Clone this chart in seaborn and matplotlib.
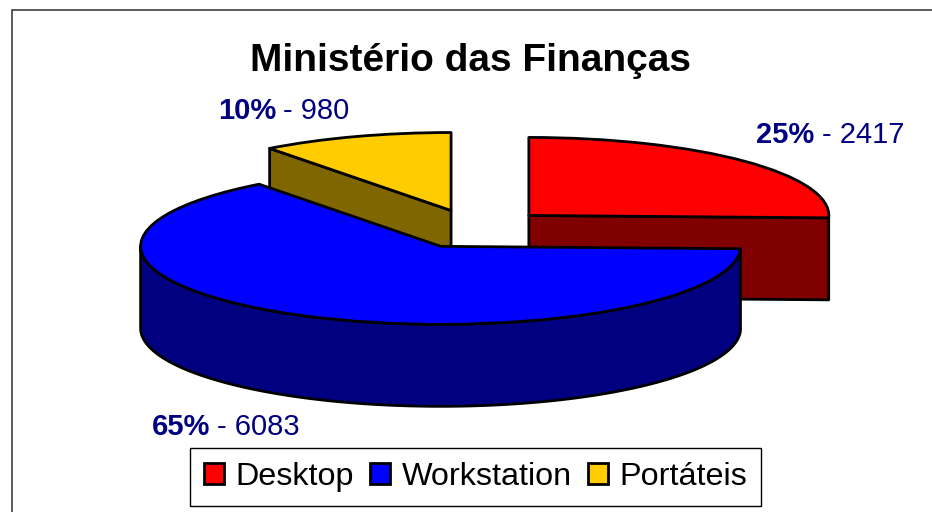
import numpy as np
import matplotlib
matplotlib.use("Agg")
import matplotlib.pyplot as plt
from matplotlib.patches import Polygon, Patch, Rectangle
import seaborn as sns

categories = ["Desktop", "Workstation", "Portáteis"]
values = [2417, 6083, 980]
percents = ["25%", "65%", "10%"]
top_colors = ["#FF0000", "#0000FF", "#FFCC00"]
side_colors = ["#800000", "#000080", "#806600"]
title = "Ministério das Finanças"

W, H = 932, 512
CX, CY = 475, 229      # pie centre, px
UX, UY = 300, 78       # px per unit radius
DEPTH = 82 / UY
EDGE = 2.0
NAVY = "#000080"

sns.set_theme(style="white")
plt.rcParams["font.family"] = ["Liberation Sans", "DejaVu Sans"]

fig = plt.figure(figsize=(W / 100, H / 100), dpi=100, facecolor="white")
ax = fig.add_axes([0, 0, 1, 1])
wedges, _ = ax.pie(values, startangle=90, counterclock=False, explode=[0.25] * 3,
                   colors=top_colors, radius=1,
                   wedgeprops=dict(edgecolor="black", linewidth=EDGE, joinstyle="round"))
ax.set_aspect("auto")
ax.set_xlim(-CX / UX, (W - CX) / UX)
ax.set_ylim((CY - H) / UY, CY / UY)
ax.axis("off")


def rim(w, a0, a1, n=120):
    t = np.radians(np.linspace(a0, a1, n))
    return np.column_stack([w.center[0] + w.r * np.cos(t), w.center[1] + w.r * np.sin(t)])


def radial_wall(w, angle):
    p = rim(w, angle, angle, 1)[0]
    c = np.array(w.center)
    return [c, p, p - [0, DEPTH], c - [0, DEPTH]]


red, blue, yellow = wedges
style = dict(edgecolor="black", linewidth=EDGE, joinstyle="round")
ax.add_patch(Polygon(radial_wall(yellow, yellow.theta2), facecolor=side_colors[2], zorder=1, **style))
yellow.set_zorder(2)
ax.add_patch(Polygon(radial_wall(red, red.theta1), facecolor=side_colors[0], zorder=3, **style))
red.set_zorder(4)
arc = rim(blue, -180, blue.theta2)
ax.add_patch(Polygon(np.vstack([arc, (arc - [0, DEPTH])[::-1]]), facecolor=side_colors[1], zorder=5, **style))
blue.set_zorder(6)


def fx(px):
    return px / W


def fy(py):
    return 1 - py / H


fig.text(fx(470), fy(71), title, fontsize=28, fontweight="bold", color="black",
         ha="center", va="baseline")

label_pos = [(814, 822, 143), (210, 217, 435), (276, 283, 119)]
for pct, val, (xb, xr, yb) in zip(percents, values, label_pos):
    fig.text(fx(xb), fy(yb), pct, fontsize=21, fontweight="bold", color=NAVY, ha="right", va="baseline")
    fig.text(fx(xr), fy(yb), f"- {val}", fontsize=21, color=NAVY, ha="left", va="baseline")

handles = [Patch(facecolor=c, edgecolor="black", linewidth=2.0) for c in top_colors]
FS = 23.3
leg = ax.legend(handles, categories, ncol=3, fontsize=FS, loc="lower left",
                bbox_to_anchor=(fx(190), fy(505.5), fx(761) - fx(190), fy(447) - fy(505.5)),
                bbox_transform=fig.transFigure, mode="expand", borderaxespad=0,
                handlelength=0.62, handleheight=0.62, handletextpad=0.36, columnspacing=0.5,
                borderpad=0.42, frameon=True, fancybox=False, framealpha=1, edgecolor="black",
                labelcolor="black")
leg.get_frame().set_linewidth(1.0)
leg.set_zorder(10)

fig.add_artist(Rectangle((fx(12), fy(H + 20)), fx(W + 40), fy(10) - fy(H + 20),
                         transform=fig.transFigure, fill=False, edgecolor="#404040", linewidth=1.2))

fig.savefig("out.png", dpi=100)
